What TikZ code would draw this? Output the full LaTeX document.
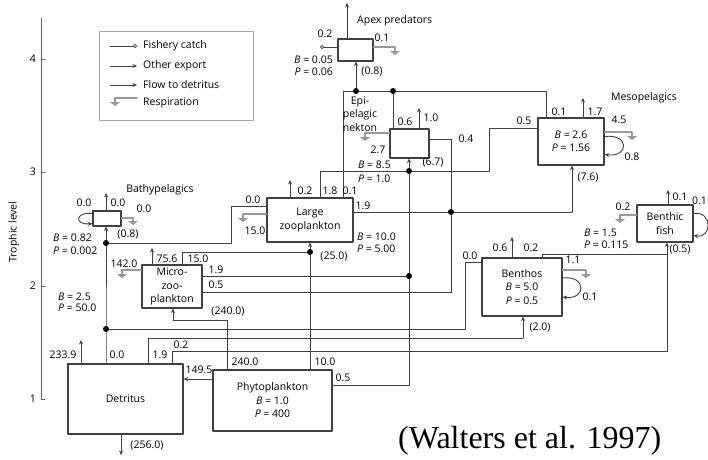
\documentclass[tikz,border=0pt]{standalone}
\usepackage{fontspec}
\setmainfont{Liberation Serif}
\newfontfamily\labelfont{Open Sans}
\usetikzlibrary{arrows.meta}

\begin{document}
\begin{tikzpicture}[x=1pt,y=-1pt,line cap=round,line join=round,
  box/.style={draw=black!75,line width=1.1pt,fill=white,inner sep=1pt,align=center,font=\labelfont\fontsize{10.5}{13.5}\selectfont},
  flow/.style={draw=black!75,line width=0.9pt},
  into/.style={flow,-{Stealth[length=4.5pt,width=4pt]}},
  export/.style={draw=black!75,line width=0.8pt,-{Stealth[length=4.5pt,width=4pt]}},
  fishery/.style={draw=black!75,line width=0.8pt,-{Circle[open,length=4pt]}},
  resp/.style={draw=black!40,line width=1.6pt,-{Triangle[length=4pt,width=10pt]}},
  selfloop/.style={draw=black!75,line width=0.9pt,-{Stealth[length=4.5pt,width=4pt]}},
  axisline/.style={draw=black!60,line width=1pt},
  lbl/.style={font=\labelfont\fontsize{10.5}{12}\selectfont,inner sep=0pt}]
\useasboundingbox (0,0) rectangle (708,459);

\node[box,minimum width=35pt,minimum height=22pt] (apex) at (355.5,50) {};
\node[box,minimum width=39pt,minimum height=29pt] (epi) at (409.5,143.5) {};
\node[box,minimum width=66pt,minimum height=47pt] (meso) at (571,141.5) {\textit{B} = 2.6\\\textit{P} = 1.56};
\node[box,minimum width=86pt,minimum height=44pt] (large) at (310,220) {Large\\zooplankton};
\node[box,minimum width=28pt,minimum height=15pt] (bathy) at (107,218.5) {};
\node[box,minimum width=60pt,minimum height=43pt] (micro) at (172,286.5) {Micro-\\zoo-\\plankton};
\node[box,minimum width=80pt,minimum height=58pt] (benthos) at (522,287) {Benthos\\\textit{B} = 5.0\\\textit{P} = 0.5};
\node[box,minimum width=56pt,minimum height=37pt] (bfish) at (665,223.5) {Benthic\\fish};
\node[box,minimum width=115pt,minimum height=70pt] (detritus) at (125.5,399) {Detritus};
\node[box,minimum width=119pt,minimum height=61pt] (phyto) at (272.5,400.5) {Phytoplankton\\\textit{B} = 1.0\\\textit{P} = 400};

\coordinate (jA) at (356,91);
\coordinate (jE) at (393,91);
\coordinate (jEb) at (409,171);
\coordinate (jMi) at (409,276);
\coordinate (jL19) at (451,212);
\coordinate (jL) at (310,252);
\coordinate (jB) at (106,243);
\coordinate (jD) at (106,329);
\coordinate (cLZa) at (343,91);
\coordinate (cMa) at (546,91);
\coordinate (c18a) at (320,171);
\coordinate (c18b) at (489,171);
\coordinate (c18c) at (489,128);
\coordinate (cP5) at (409,385);
\coordinate (c05a) at (451,292);
\coordinate (c05b) at (451,139);
\coordinate (c19) at (572,212);
\coordinate (c15) at (182,252);
\coordinate (c240a) at (227,320);
\coordinate (c240b) at (173,320);
\coordinate (cBa) at (231,206);
\coordinate (cBb) at (231,243);
\coordinate (cBe1) at (465,329);
\coordinate (cBe2) at (465,262);
\coordinate (cD19a) at (148,338);
\coordinate (cD19b) at (523,338);
\coordinate (cD02a) at (172,351);
\coordinate (cD02b) at (667,351);
\coordinate (jBf) at (667,254);
\coordinate (cBn) at (542,254);
\coordinate (cP149) at (200,379);

\draw[flow] (large.north -| cLZa) -- (cLZa) -- (cMa) -- (meso.north -| cMa);
\draw[into] (jA) -- (apex.south -| jA);
\draw[flow] (jE) -- (epi.north -| jE);
\draw[flow] (large.north -| c18a) -- (c18a) -- (c18b) -- (c18c) -- (meso.west |- c18c);
\draw[into] (jEb) -- (epi.south -| jEb);
\draw[flow] (phyto.east |- cP5) -- (cP5) -- (jEb);
\draw[flow] (micro.east |- jMi) -- (jMi);
\draw[flow] (micro.east |- c05a) -- (c05a) -- (c05b) -- (epi.east |- c05b);
\draw[flow] (large.east |- c19) -- (c19);
\draw[into] (c19) -- (meso.south -| c19);
\draw[into] (jL) -- (large.south -| jL);
\draw[flow] (phyto.north -| jL) -- (jL);
\draw[flow] (micro.north -| c15) -- (c15) -- (jL);
\draw[flow] (phyto.north -| c240a) -- (c240a) -- (c240b);
\draw[into] (c240b) -- (micro.south -| c240b);
\draw[flow] (large.west |- cBa) -- (cBa) -- (cBb) -- (jB);
\draw[into] (jB) -- (bathy.south -| jB);
\draw[flow] (detritus.north -| jD) -- (jD) -- (jB);
\draw[flow] (jD) -- (cBe1) -- (cBe2) -- (benthos.west |- cBe2);
\draw[flow] (detritus.north -| cD19a) -- (cD19a) -- (cD19b);
\draw[into] (cD19b) -- (benthos.south -| cD19b);
\draw[flow] (detritus.north -| cD02a) -- (cD02a) -- (cD02b) -- (jBf);
\draw[into] (jBf) -- (bfish.south -| jBf);
\draw[flow] (benthos.north -| cBn) -- (cBn) -- (jBf);
\draw[into] (phyto.west |- cP149) -- (detritus.east |- cP149);

\coordinate (oApex) at (347,3);
\coordinate (oLarge) at (290,180);
\coordinate (oEpi) at (419,108);
\coordinate (oMeso) at (583,98);
\coordinate (oBenthos) at (512,237);
\coordinate (oBfish) at (668,190);
\coordinate (oBathy) at (106,193);
\coordinate (oMicro) at (152,248);
\coordinate (oDetUp) at (81,340);
\coordinate (oDetDown) at (121,455);
\draw[export] (apex.north -| oApex) -- (oApex);
\draw[export] (large.north -| oLarge) -- (oLarge);
\draw[export] (epi.north -| oEpi) -- (oEpi);
\draw[export] (meso.north -| oMeso) -- (oMeso);
\draw[export] (benthos.north -| oBenthos) -- (oBenthos);
\draw[export] (bfish.north -| oBfish) -- (oBfish);
\draw[export] (bathy.north -| oBathy) -- (oBathy);
\draw[export] (micro.north -| oMicro) -- (oMicro);
\draw[export] (detritus.north -| oDetUp) -- (oDetUp);
\draw[export] (detritus.south -| oDetDown) -- (oDetDown);
\coordinate (fApex) at (320,47);
\draw[fishery] (apex.west |- fApex) -- (fApex);

\coordinate (rApex) at (395,47);
\coordinate (rEpi) at (365,133);
\coordinate (rMeso) at (632,132);
\coordinate (rLarge) at (243,214);
\coordinate (rBathy) at (133,218);
\coordinate (rMicro) at (122,270);
\coordinate (rBenthos) at (586,270);
\coordinate (rBfish) at (620,215);
\draw[resp] (apex.east |- rApex) -- (rApex) -- ++(0,8);
\draw[resp] (epi.west |- rEpi) -- (rEpi) -- ++(0,8);
\draw[resp] (meso.east |- rMeso) -- (rMeso) -- ++(0,8);
\draw[resp] (large.west |- rLarge) -- (rLarge) -- ++(0,8);
\draw[resp] (bathy.east |- rBathy) -- (rBathy) -- ++(0,7);
\draw[resp] (micro.west |- rMicro) -- (rMicro) -- ++(0,8);
\draw[resp] (benthos.east |- rBenthos) -- (rBenthos) -- ++(0,8);
\draw[resp] (bfish.west |- rBfish) -- (rBfish) -- ++(0,8);

\draw[selfloop] ([yshift=5pt]bathy.west) .. controls +(-18,-2) and +(-18,2) .. ([yshift=-5pt]bathy.west);
\draw[selfloop] ([yshift=5pt]meso.east) .. controls +(25,-3) and +(25,3) .. ([yshift=-13pt]meso.east);
\draw[selfloop] ([yshift=9pt]benthos.east) .. controls +(24,-3) and +(24,3) .. ([yshift=-10pt]benthos.east);
\draw[selfloop] ([yshift=10pt]bfish.east) .. controls +(19,-3) and +(19,3) .. ([yshift=-12pt]bfish.east);

\fill (jA) circle (3pt);
\fill (jE) circle (3pt);
\fill (jEb) circle (3pt);
\fill (jMi) circle (3pt);
\fill (jL19) circle (3pt);
\fill (jL) circle (3pt);
\fill (jB) circle (3pt);
\fill (jD) circle (3pt);

\draw[axisline] (41,18) -- (41,399);
\foreach \lv/\yy in {1/399,2/286,3/172,4/59} {
  \draw[axisline] (41,\yy) -- (45,\yy);
  \node[lbl,anchor=east] (tick\lv) at (36,\yy) {\lv};
}
\node[lbl,rotate=90] (ylabel) at (14,232) {Trophic level};

\node[draw=black!35,line width=0.9pt,minimum width=154pt,minimum height=89pt] (legend) at (176,75.5) {};
\node[lbl,anchor=west] (legF) at (143,46) {Fishery catch};
\node[lbl,anchor=west] (legO) at (143,66) {Other export};
\node[lbl,anchor=west] (legD) at (143,85) {Flow to detritus};
\node[lbl,anchor=west] (legR) at (143,103) {Respiration};
\draw[fishery] ([xshift=-33pt]legF.west) -- ([xshift=-6pt]legF.west);
\draw[export] ([xshift=-33pt]legO.west) -- ([xshift=-6pt]legO.west);
\draw[into] ([xshift=-33pt]legD.west) -- ([xshift=-6pt]legD.west);
\draw[resp] ([xshift=-6pt,yshift=5pt]legR.west) -- ([xshift=-28pt,yshift=5pt]legR.west) -- ++(0,8);

\node[lbl,anchor=west] (nApex) at (357,21) {Apex predators};
\node[lbl] (a1) at (325,34) {0.2};
\node[lbl] (a2) at (382,38) {0.1};
\node[lbl,anchor=east] (a3) at (333,60) {\textit{B} = 0.05};
\node[lbl,anchor=east] (a4) at (333,72) {\textit{P} = 0.06};
\node[lbl] (a5) at (372,72) {(0.8)};

\node[lbl,align=center,font=\labelfont\fontsize{10.5}{13.5}\selectfont] (nEpi) at (360,114) {Epi-\\pelagic\\nekton};
\node[lbl] (e1) at (405,122) {0.6};
\node[lbl] (e2) at (431,118) {1.0};
\node[lbl] (e3) at (378,150) {2.7};
\node[lbl,anchor=west] (e4) at (358,165) {\textit{B} = 8.5};
\node[lbl,anchor=west] (e5) at (358,179) {\textit{P} = 1.0};
\node[lbl] (e6) at (433,163) {(6.7)};
\node[lbl] (e7) at (466,139) {0.4};

\node[lbl] (nMeso) at (644,98) {Mesopelagics};
\node[lbl] (m1) at (559,112) {0.1};
\node[lbl] (m2) at (595,112) {1.7};
\node[lbl] (m3) at (619,120) {4.5};
\node[lbl] (m4) at (632,157) {0.8};
\node[lbl] (m5) at (524,121) {0.5};
\node[lbl] (m6) at (588,178) {(7.6)};

\node[lbl] (z1) at (305,191) {0.2};
\node[lbl] (z2) at (330,191) {1.8};
\node[lbl] (z3) at (350,191) {0.1};
\node[lbl] (z4) at (253,200) {0.0};
\node[lbl] (z5) at (255,231) {15.0};
\node[lbl] (z6) at (363,206) {1.9};
\node[lbl,anchor=west] (z7) at (357,237) {\textit{B} = 10.0};
\node[lbl,anchor=west] (z8) at (357,249) {\textit{P} = 5.00};
\node[lbl] (z9) at (334,257) {(25.0)};

\node[lbl] (nBathy) at (160,190) {Bathypelagics};
\node[lbl] (b1) at (84,203) {0.0};
\node[lbl] (b2) at (118,203) {0.0};
\node[lbl] (b3) at (144,209) {0.0};
\node[lbl] (b4) at (128,235) {(0.8)};
\node[lbl,anchor=west] (b5) at (53,238) {\textit{B} = 0.82};
\node[lbl,anchor=west] (b6) at (53,251) {\textit{P} = 0.002};

\node[lbl] (u1) at (167,259) {75.6};
\node[lbl] (u2) at (198,259) {15.0};
\node[lbl] (u3) at (124,264) {142.0};
\node[lbl] (u4) at (216,270) {1.9};
\node[lbl] (u5) at (216,285) {0.5};
\node[lbl] (u6) at (228,312) {(240.0)};
\node[lbl,anchor=west] (u7) at (58,297) {\textit{B} = 2.5};
\node[lbl,anchor=west] (u8) at (58,308) {\textit{P} = 50.0};

\node[lbl] (s1) at (500,248) {0.6};
\node[lbl] (s2) at (531,248) {0.2};
\node[lbl] (s3) at (573,260) {1.1};
\node[lbl] (s4) at (590,297) {0.1};
\node[lbl] (s5) at (470,256) {0.0};
\node[lbl] (s6) at (540,328) {(2.0)};

\node[lbl] (f1) at (680,197) {0.1};
\node[lbl] (f2) at (623,207) {0.2};
\node[lbl,anchor=west] (f3) at (584,233) {\textit{B} = 1.5};
\node[lbl,anchor=west] (f4) at (584,245) {\textit{P} = 0.115};
\node[lbl] (f5) at (680,250) {(0.5)};
\node[lbl,anchor=east] (f6) at (707,201) {0.1};

\node[lbl] (p1) at (245,362) {240.0};
\node[lbl] (p2) at (325,362) {10.0};
\node[lbl] (p3) at (199,370) {149.5};
\node[lbl] (p4) at (343,378) {0.5};

\node[lbl] (d1) at (63,355) {233.9};
\node[lbl] (d2) at (117,355) {0.0};
\node[lbl] (d3) at (160,355) {1.9};
\node[lbl] (d4) at (181,345) {0.2};
\node[lbl] (d5) at (147,446) {(256.0)};

\node[anchor=base west,inner sep=0pt,font=\fontsize{32}{36}\selectfont] (cite) at (398,448) {(Walters et al. 1997)};
\end{tikzpicture}
\end{document}
